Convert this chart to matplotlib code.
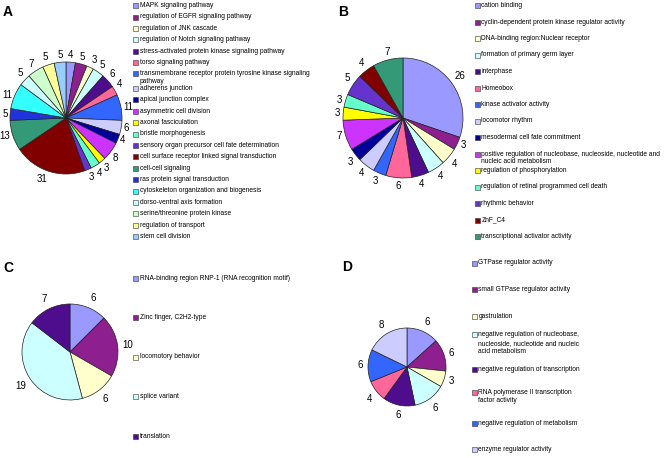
import matplotlib
matplotlib.use('Agg')
import matplotlib.pyplot as plt
from matplotlib.patches import Rectangle

W, H = 670, 458
plt.rcParams['font.family'] = ['Liberation Sans', 'DejaVu Sans']

# Excel-like fill palette used by all four pies
palette = ['#9999FF', '#8E1F8E', '#FFFFCC', '#CCFFFF', '#4D0D8C', '#FF6699',
           '#3366FF', '#CCCCFF', '#000099', '#CC33FF', '#FFFF00', '#66FFCC',
           '#6633CC', '#800000', '#339977', '#2233DD', '#33FFFF', '#CCFFFF',
           '#CCFFCC', '#FFFF99', '#99CCFF']

a_labels = ['MAPK signaling pathway', 'regulation of EGFR signaling pathway',
            'regulation of JNK cascade', 'regulation of Notch signaling pathway',
            'stress-activated protein kinase signaling pathway', 'torso signaling pathway',
            'transmembrane receptor protein tyrosine kinase signaling\npathway',
            'adherens junction', 'apical junction complex', 'asymmetric cell division',
            'axonal fasciculation', 'bristle morphogenesis',
            'sensory organ precursor cell fate determination',
            'cell surface receptor linked signal transduction', 'cell-cell signaling',
            'ras protein signal transduction', 'cytoskeleton organization and biogenesis',
            'dorso-ventral axis formation', 'serine/threonine protein kinase',
            'regulation of transport', 'stem cell division']
a_values = [4, 5, 3, 5, 6, 4, 11, 6, 4, 8, 3, 4, 3, 31, 13, 5, 11, 5, 7, 5, 5]

b_labels = ['cation binding', 'cyclin-dependent protein kinase regulator activity',
            'DNA-binding region:Nuclear receptor', 'formation of primary germ layer',
            'interphase', 'Homeobox', 'kinase activator activity', 'locomotor rhythm',
            'mesodermal cell fate commitment',
            'positive regulation of nucleobase, nucleoside, nucleotide and\nnucleic acid metabolism',
            'regulation of phosphorylation', 'regulation of retinal programmed cell death',
            'rhythmic behavior', 'ZnF_C4', 'transcriptional activator activity']
b_values = [26, 3, 4, 4, 4, 6, 3, 4, 3, 7, 3, 3, 5, 4, 7]

c_labels = ['RNA-binding region RNP-1 (RNA recognition motif)', 'Zinc finger, C2H2-type',
            'locomotory behavior', 'splice variant', 'translation']
c_values = [6, 10, 6, 19, 7]

d_labels = ['GTPase regulator activity', 'small GTPase regulator activity', 'gastrulation',
            'negative regulation of nucleobase,\nnucleoside, nucleotide and nucleic\nacid metabolism',
            'negative regulation of transcription',
            'RNA polymerase II transcription\nfactor activity',
            'negative regulation of metabolism', 'enzyme regulator activity']
d_values = [6, 6, 3, 6, 6, 4, 6, 8]

fig = plt.figure(figsize=(W / 100, H / 100), dpi=100)


def draw_pie(values, cx, cy, r, gap=3.5):
    side = 2.5 * r
    ax = fig.add_axes([(cx - side / 2) / W, 1 - (cy + side / 2) / H, side / W, side / H])
    wedges, texts = ax.pie(values, colors=palette[:len(values)], startangle=90,
                           counterclock=False, labels=[str(v) for v in values],
                           labeldistance=1 + gap / r,
                           wedgeprops=dict(edgecolor='#222222', linewidth=0.5),
                           textprops=dict(fontsize=7))
    # Excel style: label box sits just outside the rim
    for t in texts:
        x, y = t.get_position()
        x, y = x / (1 + gap / r), y / (1 + gap / r)
        t.set_ha('left' if x > 0.3 else ('right' if x < -0.3 else 'center'))
        t.set_va('bottom' if y > 0.45 else ('top' if y < -0.45 else 'center'))
    return ax


def draw_legend(labels, values, x, y0, step, lh=7.5, extra=0.0, center=False):
    y = y0
    for i, lab in enumerate(labels):
        lines = lab.split('\n')
        yy = y - (len(lines) - 1) * lh / 2 if center else y
        fig.add_artist(Rectangle(((x) / W, 1 - (yy + 2.6) / H), 5 / W, 5 / H,
                                 transform=fig.transFigure, facecolor=palette[i],
                                 edgecolor='#333333', linewidth=0.4))
        for k, line in enumerate(lines):
            fig.text((x + 6.5) / W, 1 - (yy + k * lh) / H, line, fontsize=4.8,
                     va='center', ha='left')
        y += step + extra * (len(lines) - 1)


draw_pie(a_values, 66, 118, 56, gap=2.5)
draw_pie(b_values, 403, 118, 60)
draw_pie(c_values, 70, 352, 48, gap=5)
draw_pie(d_values, 407, 367, 39, gap=5)

draw_legend(a_labels, a_values, 133, 5.5, 11.4, extra=3)
draw_legend(b_labels, b_values, 475, 5.5, 16.5)
draw_legend(c_labels, c_values, 133, 278, 39.5)
draw_legend(d_labels, d_values, 472, 263, 26.7, lh=8.5, center=True)

for letter, x, y in [('A', 3, 12), ('B', 338, 12), ('C', 3, 268), ('D', 342, 267)]:
    fig.text(x / W, 1 - y / H, letter, fontsize=10, fontweight='bold', va='center', ha='left')

fig.savefig('out.png', dpi=100)
